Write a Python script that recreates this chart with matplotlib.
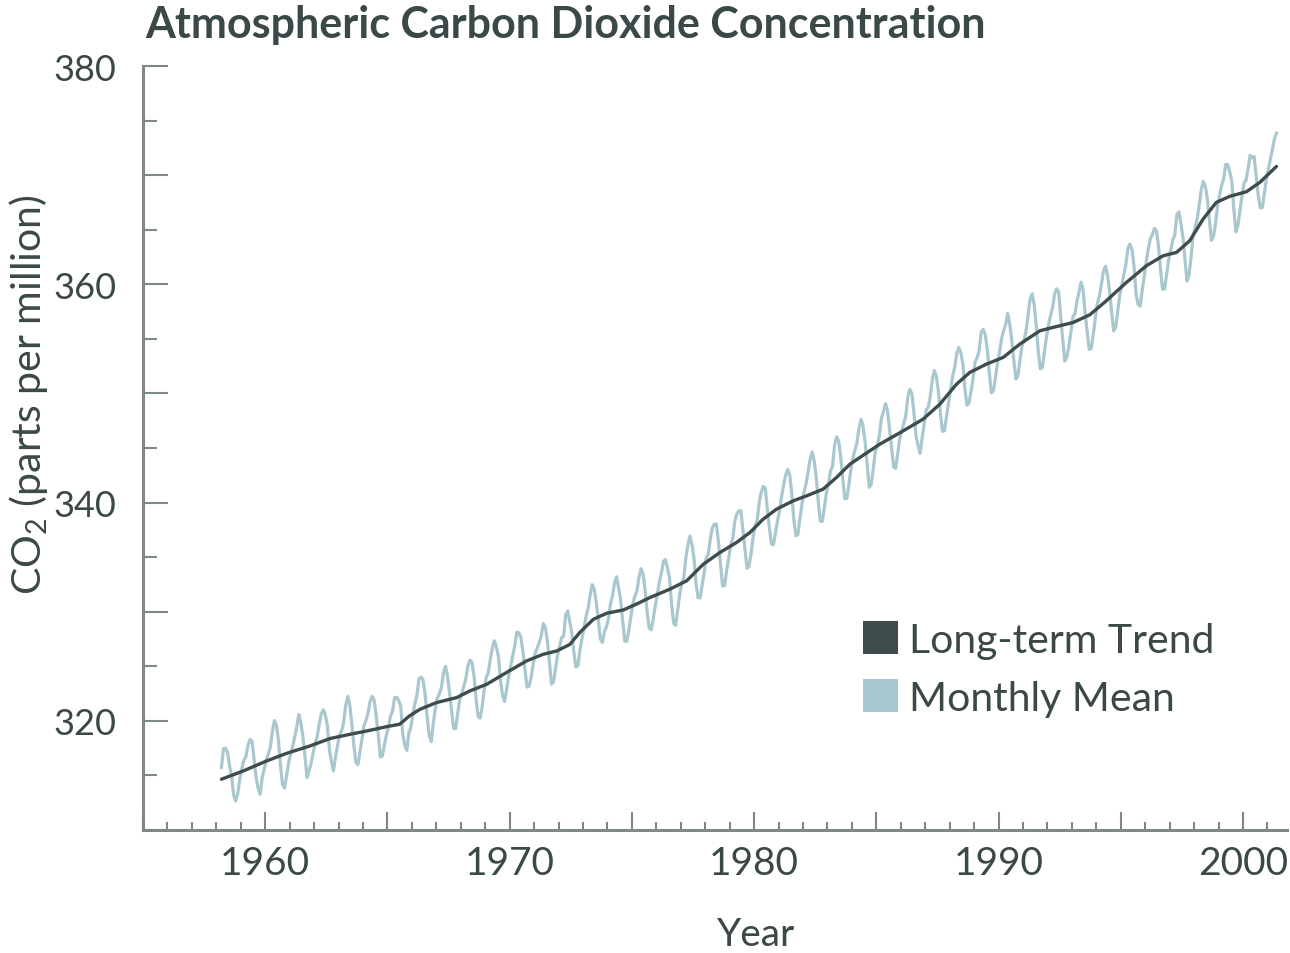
import numpy as np
import matplotlib
matplotlib.use("Agg")
import matplotlib.pyplot as plt
from matplotlib.ticker import MultipleLocator, FuncFormatter
from matplotlib.patches import Patch

# ---------------- data (Mauna Loa monthly mean CO2, ppm) ----------------
start_year = 1958
start_month = 3  # March 1958

co2_1958_1959 = [315.71, 317.45, 317.50, 317.10, 315.86, 314.93, 313.20, 312.66, 313.33, 314.67,
                 315.62, 316.38, 316.71, 317.72, 318.29, 318.15, 316.54, 314.80, 313.84, 313.26, 314.80, 315.58]
co2_1960s = [316.43, 316.97, 317.58, 319.02, 320.03, 319.59, 318.18, 315.91, 314.16, 313.83, 315.00, 316.19,
             316.93, 317.70, 318.54, 319.48, 320.58, 319.77, 318.57, 316.79, 314.80, 315.38, 316.10, 317.01,
             317.94, 318.56, 319.68, 320.63, 321.01, 320.55, 319.58, 317.40, 316.26, 315.42, 316.69, 317.69,
             318.74, 319.08, 319.86, 321.39, 322.25, 321.47, 319.74, 317.77, 316.21, 315.99, 317.12, 318.31,
             319.57, 320.07, 320.73, 321.77, 322.25, 321.89, 320.44, 318.70, 316.70, 316.79, 317.79, 318.71,
             319.44, 320.44, 320.89, 322.13, 322.16, 321.87, 321.39, 318.81, 317.81, 317.30, 318.87, 319.42,
             320.62, 321.59, 322.39, 323.87, 324.01, 323.75, 322.39, 320.37, 318.64, 318.10, 319.79, 321.08,
             322.07, 322.50, 323.04, 324.42, 325.00, 324.09, 322.55, 320.92, 319.31, 319.31, 320.72, 321.96,
             322.57, 323.15, 323.89, 325.02, 325.57, 325.36, 324.14, 322.03, 320.41, 320.25, 321.31, 322.84,
             324.00, 324.42, 325.64, 326.66, 327.34, 326.76, 325.88, 323.67, 322.38, 321.78, 322.85, 324.11]
co2_1970s = [325.03, 325.99, 326.87, 328.13, 328.07, 327.66, 326.35, 324.69, 323.10, 323.16, 323.98, 325.13,
             326.17, 326.68, 327.18, 327.78, 328.92, 328.57, 327.34, 325.46, 323.36, 323.57, 324.80, 326.01,
             326.77, 327.63, 327.75, 329.72, 330.07, 329.09, 328.05, 326.32, 324.93, 325.06, 326.50, 327.55,
             328.54, 329.56, 330.30, 331.50, 332.48, 332.07, 330.87, 329.31, 327.51, 327.18, 328.16, 328.64,
             329.35, 330.71, 331.48, 332.65, 333.20, 332.16, 331.07, 329.12, 327.32, 327.28, 328.30, 329.58,
             330.73, 331.46, 331.90, 333.17, 333.94, 333.45, 331.98, 329.95, 328.50, 328.34, 329.37, 330.58,
             331.59, 332.75, 333.52, 334.64, 334.77, 334.00, 333.06, 330.68, 328.95, 328.75, 330.15, 331.62,
             332.66, 333.13, 334.95, 336.13, 336.93, 336.17, 334.88, 332.56, 331.29, 331.27, 332.41, 333.60,
             334.95, 335.25, 336.66, 337.69, 338.03, 338.01, 336.41, 334.41, 332.37, 332.41, 333.75, 334.90,
             336.14, 336.69, 338.27, 338.96, 339.21, 339.26, 337.54, 335.75, 333.98, 334.19, 335.31, 336.81]
co2_1980s = [337.90, 338.34, 340.01, 340.93, 341.48, 341.33, 339.40, 337.70, 336.19, 336.15, 337.27, 338.32,
             339.29, 340.55, 341.61, 342.53, 343.03, 342.54, 340.78, 338.44, 336.95, 337.08, 338.58, 339.88,
             340.96, 341.73, 342.81, 343.97, 344.63, 343.79, 342.32, 340.09, 338.28, 338.29, 339.60, 340.90,
             341.68, 342.90, 343.33, 345.25, 346.03, 345.63, 344.19, 342.27, 340.35, 340.38, 341.59, 343.05,
             344.10, 344.79, 345.52, 346.84, 347.63, 346.98, 345.53, 343.55, 341.40, 341.67, 343.10, 344.70,
             345.21, 346.16, 347.74, 348.34, 349.06, 348.38, 346.72, 345.02, 343.27, 343.13, 344.49, 345.88,
             346.56, 347.28, 348.01, 349.77, 350.38, 349.93, 348.16, 346.08, 345.22, 344.51, 345.93, 347.22,
             348.52, 348.73, 349.73, 351.31, 352.09, 351.53, 350.11, 348.08, 346.52, 346.59, 347.96, 349.16,
             350.39, 351.64, 352.41, 353.69, 354.21, 353.72, 352.69, 350.40, 348.92, 349.13, 350.20, 351.41,
             352.91, 353.27, 353.96, 355.64, 355.86, 355.37, 353.99, 351.81, 350.05, 350.25, 351.49, 352.85]
co2_1990s = [353.80, 355.04, 355.73, 356.32, 357.32, 356.34, 354.84, 353.01, 351.31, 351.62, 353.07, 354.33,
             354.84, 355.73, 357.23, 358.66, 359.13, 358.13, 356.19, 353.85, 352.25, 352.35, 353.81, 355.12,
             356.25, 357.11, 357.86, 359.09, 359.59, 359.33, 357.01, 354.94, 352.96, 353.32, 354.32, 355.57,
             357.00, 357.31, 358.47, 359.27, 360.19, 359.52, 357.33, 355.64, 354.03, 354.12, 355.41, 356.91,
             358.24, 358.92, 359.99, 361.23, 361.65, 360.81, 359.38, 357.46, 355.73, 356.07, 357.53, 358.98,
             359.92, 360.86, 361.83, 363.30, 363.69, 363.19, 361.64, 359.12, 358.17, 357.99, 359.45, 360.68,
             362.07, 363.24, 364.17, 364.57, 365.13, 364.92, 363.55, 361.38, 359.54, 359.58, 360.89, 362.24,
             363.09, 364.03, 364.51, 366.35, 366.64, 365.59, 364.31, 362.25, 360.29, 360.82, 362.49, 364.38,
             365.26, 365.98, 367.24, 368.66, 369.42, 368.99, 367.82, 365.95, 364.02, 364.40, 365.52, 367.13,
             368.18, 369.07, 369.68, 370.99, 370.96, 370.30, 369.45, 366.90, 364.81, 365.37, 366.72, 368.10]
co2_2000s = [369.29, 369.54, 370.60, 371.82, 371.58, 371.70, 369.86, 368.13, 367.00, 367.03, 368.37, 369.67,
             370.59, 371.51, 372.43, 373.37, 373.85]

# Long-term trend
trend_years = [1958.21, 1959.1, 1960.06, 1960.88, 1961.83, 1962.65, 1963.47, 1964.15, 1964.97, 1965.5,
               1965.9, 1966.33, 1967.0, 1967.83, 1968.37, 1969.06, 1969.87, 1970.69, 1971.37, 1971.92,
               1972.46, 1972.87, 1973.42, 1973.97, 1974.65, 1975.19, 1975.74, 1976.55, 1977.24, 1977.92,
               1978.6, 1979.28, 1979.83, 1980.37, 1980.92, 1981.6, 1982.14, 1982.82, 1983.37, 1983.92,
               1984.73, 1985.14, 1986.1, 1986.91, 1987.6, 1988.28, 1988.82, 1989.5, 1990.19, 1990.87,
               1991.69, 1992.23, 1993.05, 1993.73, 1994.41, 1995.23, 1996.05, 1996.73, 1997.28, 1997.82,
               1998.37, 1998.91, 1999.46, 2000.14, 2000.69, 2001.37]
trend_ppm = [314.65, 315.41, 316.33, 317.03, 317.70, 318.38, 318.77, 319.07, 319.47, 319.69,
             320.45, 321.06, 321.67, 322.13, 322.74, 323.35, 324.43, 325.49, 326.10, 326.40,
             327.00, 328.10, 329.30, 329.86, 330.16, 330.70, 331.30, 332.06, 332.83, 334.35,
             335.42, 336.34, 337.26, 338.48, 339.40, 340.16, 340.61, 341.23, 342.30, 343.52,
             344.74, 345.35, 346.57, 347.64, 349.02, 350.85, 351.92, 352.68, 353.30, 354.52,
             355.74, 356.05, 356.50, 357.20, 358.49, 360.17, 361.70, 362.61, 362.92, 363.99,
             365.98, 367.51, 368.06, 368.48, 369.34, 370.80]

x_labeled_ticks = [1960, 1970, 1980, 1990, 2000]
y_labeled_ticks = [320, 340, 360, 380]
series_labels = ["Long-term Trend", "Monthly Mean"]

# ---------------- style ----------------
DARK = "#3e4c4c"
LIGHT = "#a9c7cf"
AXIS = "#7f8889"
TEXT = "#3b4848"
FONT = ["Lato", "DejaVu Sans"]

plt.rcParams["font.family"] = FONT
plt.rcParams["mathtext.fontset"] = "custom"
plt.rcParams["mathtext.rm"] = "Lato"
plt.rcParams["mathtext.it"] = "Lato"
plt.rcParams["mathtext.bf"] = "Lato:bold"
plt.rcParams["mathtext.default"] = "regular"

W, H = 1290, 954
fig = plt.figure(figsize=(W / 100, H / 100), dpi=100)
ax = fig.add_axes([143 / W, 1 - 831 / H, (1287 - 143) / W, (831 - 67) / H])

monthly = np.concatenate([co2_1958_1959, co2_1960s, co2_1970s, co2_1980s, co2_1990s, co2_2000s])
idx = np.arange(len(monthly))
monthly_x = start_year + (start_month - 1 + idx + 0.5) / 12.0

ax.plot(monthly_x, monthly, color=LIGHT, lw=2.3, solid_joinstyle="round", zorder=2)
ax.plot(trend_years, trend_ppm, color=DARK, lw=2.4, solid_joinstyle="round",
        solid_capstyle="round", zorder=3)

ax.set_xlim(1955, 2001.8)
ax.set_ylim(310, 380)

for s in ("top", "right"):
    ax.spines[s].set_visible(False)
for s in ("left", "bottom"):
    ax.spines[s].set_color(AXIS)
    ax.spines[s].set_linewidth(2.2)

ax.xaxis.set_major_locator(MultipleLocator(5))
ax.xaxis.set_minor_locator(MultipleLocator(1))
ax.yaxis.set_major_locator(MultipleLocator(10))
ax.yaxis.set_minor_locator(MultipleLocator(5))
ax.xaxis.set_major_formatter(FuncFormatter(lambda v, p: f"{int(round(v))}" if int(round(v)) in x_labeled_ticks else ""))
ax.yaxis.set_major_formatter(FuncFormatter(lambda v, p: f"{int(round(v))}" if int(round(v)) in y_labeled_ticks else ""))

ax.tick_params(axis="x", which="major", direction="in", length=13, width=1.5, color=AXIS, pad=11,
               labelsize=28, labelcolor=TEXT)
ax.tick_params(axis="x", which="minor", direction="in", length=6, width=1.5, color=AXIS)
ax.tick_params(axis="y", which="major", direction="in", length=18, width=1.5, color=AXIS, pad=19,
               labelsize=26, labelcolor=TEXT)
ax.tick_params(axis="y", which="minor", direction="in", length=10, width=1.5, color=AXIS)

ax.set_xlabel("Year", fontsize=28, color=TEXT, va="center")
ax.xaxis.set_label_coords((756 - 143) / 1144, (831 - 935) / 764)
ax.set_ylabel("CO$_2$ (parts per million)", fontsize=29.5, color=TEXT, va="center")
ax.yaxis.set_label_coords((29 - 143) / 1144, (831 - 395) / 764)

fig.text(145 / W, 1 - 38 / H, "Atmospheric Carbon Dioxide Concentration", fontsize=31,
         fontweight="bold", color=TEXT, ha="left", va="baseline")

handles = [Patch(facecolor=DARK, edgecolor="none"), Patch(facecolor=LIGHT, edgecolor="none")]
ax.legend(handles, series_labels, loc="upper left", bbox_to_anchor=(863 / W, 1 - 622 / H),
          bbox_transform=fig.transFigure, frameon=False, handlelength=0.85, handleheight=0.85,
          handletextpad=0.28, labelspacing=0.5, borderpad=0, borderaxespad=0,
          prop={"size": 29.5}, labelcolor=TEXT)

fig.savefig("out.png", dpi=100)
